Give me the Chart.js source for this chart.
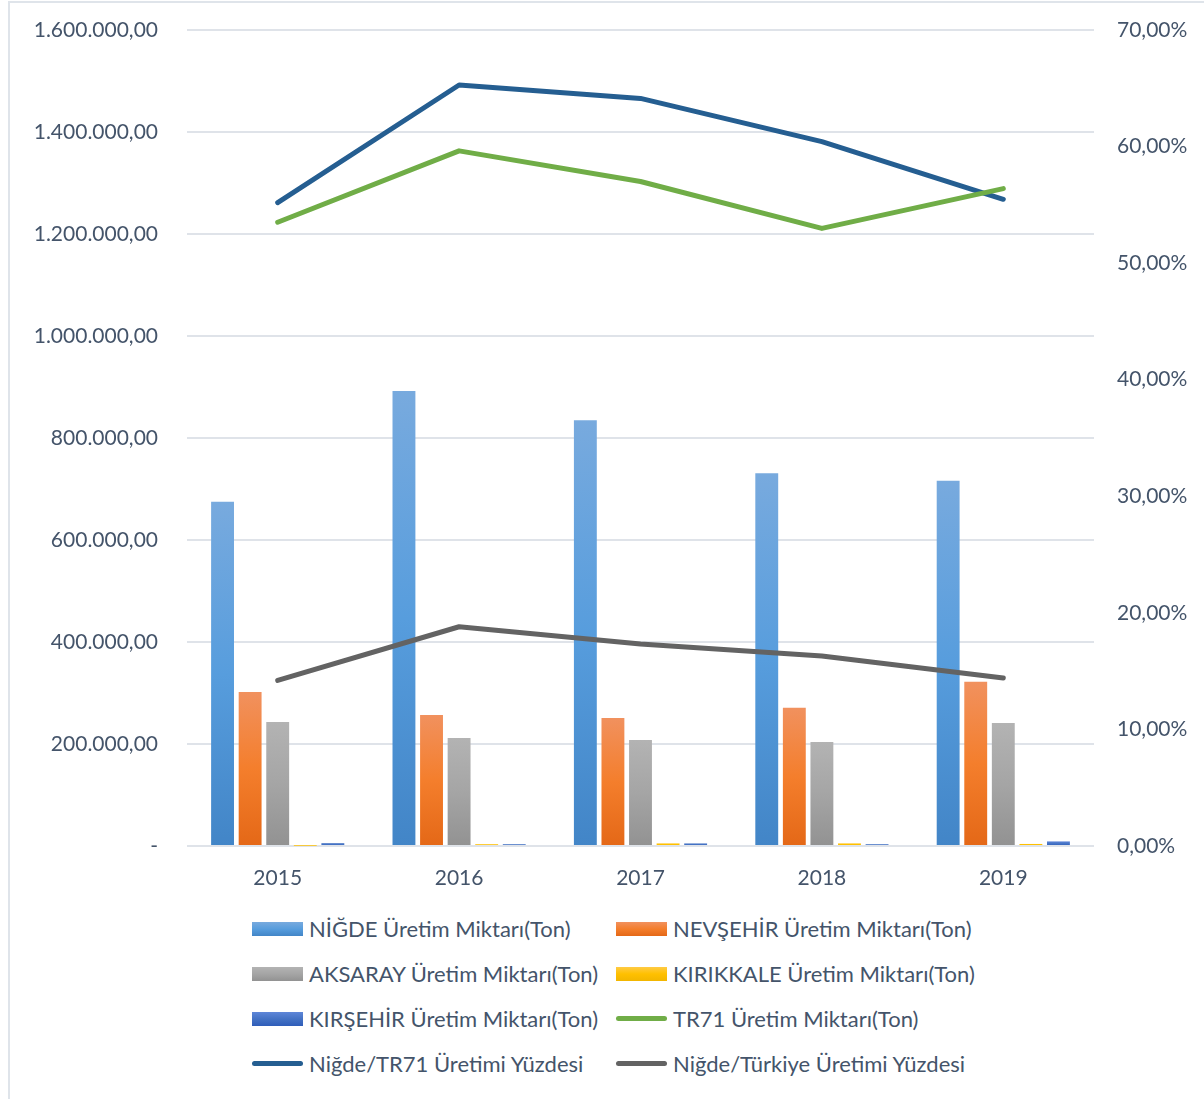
<!DOCTYPE html>
<html lang="tr">
<head>
<meta charset="utf-8">
<title>TR71 Üretim Miktarları</title>
<script src="https://cdn.jsdelivr.net/npm/chart.js@4.4.1/dist/chart.umd.min.js"></script>
<style>
    html, body { margin: 0; padding: 0; background: #fff; }
    body { width: 1204px; height: 1099px; position: relative; overflow: hidden; font-family: Lato, "Open Sans", sans-serif; }
    #frame { position: absolute; left: 8px; top: 1px; width: 1210px; height: 1096px; border: 2px solid #dfe4ea; border-right: none; }
    #chartBox { position: absolute; left: 0; top: 0; width: 1204px; height: 900px; }
    #legend { position: absolute; left: 0; top: 906px; width: 1204px; }
    .lg-item { position: absolute; height: 45px; display: flex; align-items: center; font-size: 22px; color: #44546a; white-space: nowrap; }
    .lg-key { width: 51px; margin-right: 6px; flex: none; }
    .lg-key.bar { height: 14px; }
    .lg-key.line { height: 5px; border-radius: 3px; }
</style>
</head>
<body>
<div id="frame"></div>
<div id="chartBox"><canvas id="mixedChart" width="1204" height="900"></canvas></div>
<div id="legend"></div>

<script>
// years on the x axis
const years = ['2015', '2016', '2017', '2018', '2019'];

// production by province, tonnes
const nigde = [675000, 892000, 835000, 731000, 716000];
const nevsehir = [302000, 257000, 251000, 271000, 322000];
const aksaray = [243000, 212000, 208000, 204000, 241000];
const kirikkale = [500, 3500, 5000, 5000, 4000];
const kirsehir = [5500, 3500, 5000, 3500, 9000];

// TR71 region total, tonnes
const tr71 = [1223000, 1363000, 1303000, 1211000, 1289000];

// shares in percent (right axis)
const nigdeTr71Pct = [55.19, 65.28, 64.13, 60.42, 55.48];
const nigdeTurkiyePct = [14.20, 18.81, 17.33, 16.30, 14.41];

// left axis: 0 .. 1.600.000 step 200.000, right axis: 0 .. 70 step 10
const leftTicks = [0, 1600000, 200000];
const rightTicks = [0, 70, 10];

function trNumber(v, digits) {
    const parts = Number(v).toFixed(digits).split('.');
    parts[0] = parts[0].replace(/\B(?=(\d{3})+(?!\d))/g, '.');
    return parts.join(',');
}

// vertical gradient per bar, light at the top and darker at the base
function barGradient(top, mid, bottom) {
    return function (c) {
        if (c.type !== 'data' || !c.chart.chartArea) return mid;
        const ys = c.chart.scales.y;
        const y0 = ys.getPixelForValue(c.raw);
        const y1 = ys.getPixelForValue(0);
        if (!isFinite(y0) || Math.abs(y1 - y0) < 4) return mid;
        const g = c.chart.ctx.createLinearGradient(0, y0, 0, y1);
        g.addColorStop(0, top);
        g.addColorStop(0.5, mid);
        g.addColorStop(1, bottom);
        return g;
    };
}

const barStyles = [
    ['#78aade', '#579ddd', '#4285c7'],
    ['#f1915e', '#f47e2c', '#e46817'],
    ['#b3b3b3', '#a5a5a5', '#929292'],
    ['#ffcb45', '#ffc000', '#f2b600'],
    ['#5e86d8', '#4472c4', '#2f5db9']
];

function barSet(label, data, style) {
    return {
        type: 'bar',
        label: label,
        data: data,
        yAxisID: 'y',
        order: 1,
        backgroundColor: barGradient(style[0], style[1], style[2]),
        legendCss: 'linear-gradient(to bottom,' + style[0] + ',' + style[1] + ' 50%,' + style[2] + ')',
        categoryPercentage: 0.76,
        barPercentage: 0.83
    };
}

function lineSet(label, data, color, axis) {
    return {
        type: 'line',
        label: label,
        data: data,
        yAxisID: axis,
        order: 0,
        borderColor: color,
        backgroundColor: color,
        borderWidth: 5,
        borderCapStyle: 'round',
        borderJoinStyle: 'round',
        pointRadius: 0,
        tension: 0,
        fill: false,
        legendCss: color
    };
}

const datasets = [
    barSet('NİĞDE Üretim Miktarı(Ton)', nigde, barStyles[0]),
    barSet('NEVŞEHİR Üretim Miktarı(Ton)', nevsehir, barStyles[1]),
    barSet('AKSARAY Üretim Miktarı(Ton)', aksaray, barStyles[2]),
    barSet('KIRIKKALE Üretim Miktarı(Ton)', kirikkale, barStyles[3]),
    barSet('KIRŞEHİR Üretim Miktarı(Ton)', kirsehir, barStyles[4]),
    lineSet('TR71 Üretim Miktarı(Ton)', tr71, '#70ad47', 'y'),
    lineSet('Niğde/TR71 Üretimi Yüzdesi', nigdeTr71Pct, '#255e91', 'y1'),
    lineSet('Niğde/Türkiye Üretimi Yüzdesi', nigdeTurkiyePct, '#636363', 'y1')
];

const tickFont = { family: 'Lato, "Open Sans", sans-serif', size: 21 };
const tickColor = '#44546a';

// fixed axis widths; tick padding must not push the plot area down
function fixWidth(w) {
    return s => {
        s.width = w;
        s.paddingTop = 0;
        s.paddingBottom = 0;
    };
}

const ctx = document.getElementById('mixedChart').getContext('2d');
const chart = new Chart(ctx, {
    data: { labels: years, datasets: datasets },
    options: {
        responsive: false,
        animation: false,
        layout: { padding: { top: 30, left: 0, right: 0, bottom: 0 } },
        plugins: { legend: { display: false }, tooltip: { enabled: false } },
        scales: {
            x: {
                grid: { display: false },
                border: { display: false },
                ticks: { color: tickColor, font: tickFont, padding: 12 },
                afterFit: s => { s.height = 54; }
            },
            y: {
                position: 'left',
                min: leftTicks[0], max: leftTicks[1],
                grid: { color: '#dfe3e9', lineWidth: 2, drawTicks: false },
                border: { display: false },
                ticks: {
                    stepSize: leftTicks[2],
                    color: tickColor, font: tickFont, padding: 29,
                    callback: v => v === 0 ? '-' : trNumber(v, 2)
                },
                afterFit: fixWidth(187)
            },
            y1: {
                position: 'right',
                min: rightTicks[0], max: rightTicks[1],
                grid: { display: false, drawTicks: false },
                border: { display: false },
                ticks: {
                    stepSize: rightTicks[2],
                    color: tickColor, font: tickFont, padding: 23,
                    callback: v => trNumber(v, 2) + '%'
                },
                afterFit: fixWidth(110)
            }
        }
    }
});

// two-column legend below the chart
const legendEl = document.getElementById('legend');
const colX = [252, 616];
datasets.forEach((ds, i) => {
    const item = document.createElement('div');
    item.className = 'lg-item';
    item.style.left = colX[i % 2] + 'px';
    item.style.top = (Math.floor(i / 2) * 45) + 'px';
    const key = document.createElement('span');
    key.className = 'lg-key ' + ds.type;
    key.style.background = ds.legendCss;
    const text = document.createElement('span');
    text.textContent = ds.label;
    item.appendChild(key);
    item.appendChild(text);
    legendEl.appendChild(item);
});
</script>
</body>
</html>
